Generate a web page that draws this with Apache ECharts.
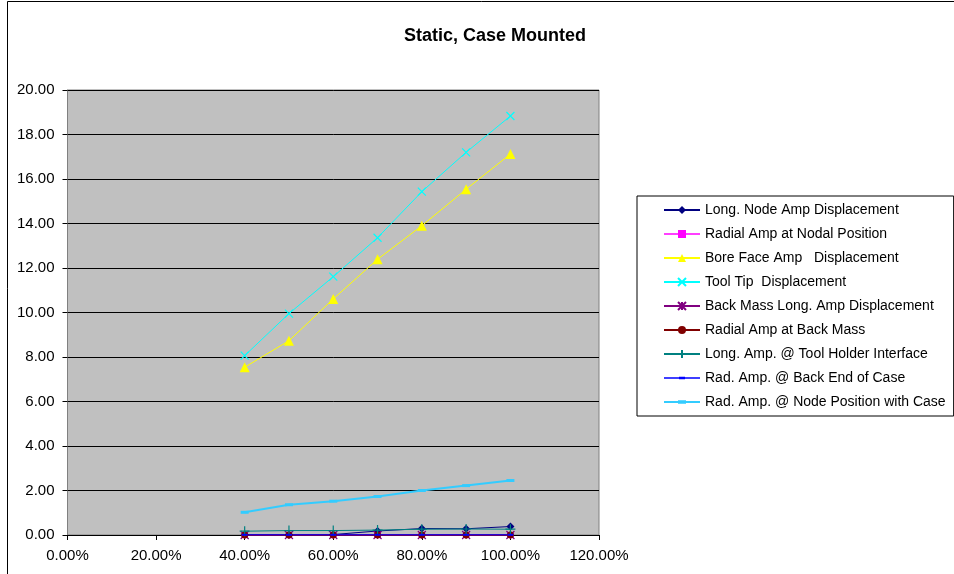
<!DOCTYPE html>
<html>
<head>
<meta charset="utf-8">
<script src="https://cdn.jsdelivr.net/npm/echarts@6/dist/echarts.min.js"></script>
<style>
  html, body { margin: 0; padding: 0; background: #fff; }
  #chart { width: 954px; height: 574px; }
</style>
</head>
<body>
<div id="chart"></div>
<script>
// Load level (fraction of full power) shared by every series
const loadLevels = [0.4, 0.5, 0.6, 0.7, 0.8, 0.9, 1.0];

// Measured amplitudes at each load level
const longNodeAmp      = [0.01, 0.01, 0.02, 0.18, 0.29, 0.28, 0.38];
const radialAmpNodal   = [0.00, 0.00, 0.00, 0.00, 0.00, 0.00, 0.00];
const boreFaceAmp      = [7.54, 8.73, 10.61, 12.39, 13.90, 15.54, 17.12];
const toolTipDisp      = [8.06, 9.95, 11.61, 13.36, 15.43, 17.20, 18.83];
const backMassLongAmp  = [0.00, 0.00, 0.00, 0.00, 0.00, 0.00, 0.00];
const radialBackMass   = [0.00, 0.00, 0.00, 0.00, 0.00, 0.00, 0.00];
const toolHolderLong   = [0.17, 0.20, 0.20, 0.22, 0.26, 0.27, 0.26];
const radBackEndCase   = [0.01, 0.01, 0.01, 0.01, 0.01, 0.01, 0.01];
const radNodeWithCase  = [1.02, 1.36, 1.52, 1.73, 2.00, 2.22, 2.45];

const seriesNames = [
  'Long. Node Amp Displacement',
  'Radial Amp at Nodal Position',
  'Bore Face Amp   Displacement',
  'Tool Tip  Displacement',
  'Back Mass Long. Amp Displacement',
  'Radial Amp at Back Mass',
  'Long. Amp. @ Tool Holder Interface',
  'Rad. Amp. @ Back End of Case',
  'Rad. Amp. @ Node Position with Case'
];
const seriesValues = [
  longNodeAmp, radialAmpNodal, boreFaceAmp, toolTipDisp, backMassLongAmp,
  radialBackMass, toolHolderLong, radBackEndCase, radNodeWithCase
];

const FONT = '"Liberation Sans", Arial, sans-serif';

// Legend swatches (36 x 10 box) for the flat markers: line + small marker in one path
const BOX = 'M0,0L0,0M36,10L36,10';
const legendIcons = {
  1: 'path://' + BOX + 'M0,4.2L36,4.2L36,5.8L0,5.8ZM14,1L22,1L22,9L14,9Z',
  7: 'path://' + BOX + 'M0,4.2L36,4.2L36,5.8L0,5.8ZM15,3.8L21,3.8L21,6.2L15,6.2Z',
  8: 'path://' + BOX + 'M0,4L36,4L36,6L0,6ZM14,3.3L22,3.3L22,6.7L14,6.7Z'
};

// Per-series look: colour, marker and line width
const looks = [
  { color: '#000080', symbol: 'diamond', size: 8 },
  { color: '#FF00FF', symbol: 'rect', size: 6 },
  { color: '#FFFF00', symbol: 'triangle', size: 10 },
  { color: '#00FFFF', symbol: 'path://M0,0L10,10M10,0L0,10', size: 8, stroke: true },
  { color: '#800080', symbol: 'path://M0,0L10,10M10,0L0,10M5,0L5,10', size: 8, stroke: true },
  { color: '#800000', symbol: 'circle', size: 7 },
  { color: '#008080', symbol: 'path://M5,0L5,10M0,5L10,5', size: 10, stroke: true },
  { color: '#0000FF', symbol: 'rect', size: [6, 2] },
  { color: '#33CCFF', symbol: 'rect', size: [8, 3], width: 2 }
];

const series = seriesNames.map((name, i) => {
  const lk = looks[i];
  return {
    name: name,
    type: 'line',
    data: loadLevels.map((x, k) => [x, seriesValues[i][k]]),
    symbol: lk.symbol,
    symbolSize: lk.size,
    showAllSymbol: true,
    clip: false,
    animation: false,
    lineStyle: { color: lk.color, width: lk.width || 1 },
    itemStyle: lk.stroke
      ? { color: lk.color, borderColor: lk.color, borderWidth: 1.2 }
      : { color: lk.color, borderWidth: 0 },
    emphasis: { disabled: true }
  };
});

const legendData = seriesNames.map((name, i) =>
  legendIcons[i] ? { name: name, icon: legendIcons[i] } : { name: name }
);

const chart = echarts.init(document.getElementById('chart'), null, { renderer: 'canvas' });
chart.setOption({
  backgroundColor: '#ffffff',
  animation: false,
  title: {
    text: 'Static, Case Mounted',
    left: 490,
    textAlign: 'center',
    top: 22,
    textStyle: { fontFamily: FONT, fontSize: 18, fontWeight: 'bold', color: '#000' }
  },
  graphic: [
    {
      type: 'rect',
      silent: true,
      z: -1,
      shape: { x: 7.5, y: 1.5, width: 980, height: 620 },
      style: { fill: 'none', stroke: '#000', lineWidth: 1 }
    }
  ],
  grid: {
    left: 67.5,
    top: 90,
    right: 355,
    bottom: 39,
    show: true,
    backgroundColor: '#C0C0C0',
    borderColor: '#808080',
    borderWidth: 1
  },
  legend: {
    orient: 'vertical',
    left: 637,
    top: 196,
    padding: [7, 8, 7, 26],
    itemGap: 10,
    itemWidth: 36,
    itemHeight: 10,
    backgroundColor: '#ffffff',
    borderColor: '#000',
    borderWidth: 1,
    selectedMode: false,
    textStyle: { fontFamily: FONT, fontSize: 14, color: '#000', lineHeight: 14 },
    data: legendData
  },
  xAxis: {
    type: 'value',
    min: 0,
    max: 1.2,
    interval: 0.2,
    axisLine: { show: true, onZero: false, lineStyle: { color: '#000', width: 1 } },
    axisTick: { show: true, inside: false, length: 5, lineStyle: { color: '#000' } },
    splitLine: { show: false },
    axisLabel: {
      margin: 13,
      fontFamily: FONT,
      fontSize: 15,
      color: '#000',
      formatter: v => (v * 100).toFixed(2) + '%'
    }
  },
  yAxis: {
    type: 'value',
    min: 0,
    max: 20,
    interval: 2,
    axisLine: { show: true, lineStyle: { color: '#808080', width: 1 } },
    axisTick: { show: true, inside: false, length: 5, lineStyle: { color: '#000' } },
    splitLine: { show: true, lineStyle: { color: '#000', width: 1 } },
    axisLabel: {
      margin: 13,
      fontFamily: FONT,
      fontSize: 15,
      color: '#000',
      formatter: v => v.toFixed(2)
    }
  },
  series: series
});
</script>
</body>
</html>
